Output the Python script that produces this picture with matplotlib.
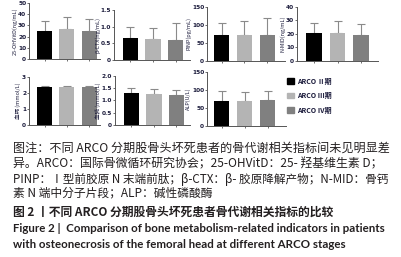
import matplotlib
matplotlib.use('Agg')
import matplotlib.pyplot as plt
from matplotlib.patches import Rectangle

# 数据：三组 ARCO 分期（Ⅱ、Ⅲ、Ⅳ）的均值和标准差
stages = ['ARCO Ⅱ期', 'ARCO Ⅲ期', 'ARCO Ⅳ期']
vitd_mean = [25.2, 26.8, 24.8]
vitd_sd = [9.1, 10.5, 10.5]
ctx_mean = [0.66, 0.62, 0.60]
ctx_sd = [0.32, 0.33, 0.50]
pinp_mean = [71, 71, 72]
pinp_sd = [33, 40, 47]
nmid_mean = [20.2, 20.2, 18.8]
nmid_sd = [7.9, 9.4, 8.4]
ca_mean = [2.34, 2.33, 2.33]
ca_sd = [0.11, 0.12, 0.12]
p_mean = [1.29, 1.27, 1.23]
p_sd = [0.20, 0.20, 0.20]
alp_mean = [68.5, 68.5, 72]
alp_sd = [28, 25, 24]

colors = ['#000000', '#b4b4b4', '#808080']
W, H = 401, 257
tick_col = '#1c1c3c'

fig = plt.figure(figsize=(W / 100, H / 100), dpi=100)

def panel(px_left, px_right, px_top, px_zero, means, sds, ymax, yticks, ticklabels, ylabel, xlim):
    ax = fig.add_axes([px_left / W, 1 - px_zero / H, (px_right - px_left) / W, (px_zero - px_top) / H])
    x = [0, 1, 2]
    ax.bar(x, means, width=0.67, color=colors, zorder=2)
    ax.errorbar(x, means, yerr=[[0, 0, 0], sds], fmt='none', ecolor='#8a8a8a',
                elinewidth=0.8, capsize=2.6, capthick=0.8, zorder=1)
    ax.set_ylim(0, ymax)
    ax.set_xlim(*xlim)
    ax.set_yticks(yticks)
    ax.set_yticklabels(ticklabels, fontsize=4.2, fontweight='bold', color=tick_col)
    ax.set_xticks(x)
    ax.set_xticklabels([])
    for s in ['top', 'right']:
        ax.spines[s].set_visible(False)
    for s in ['left', 'bottom']:
        ax.spines[s].set_color('#555555')
        ax.spines[s].set_linewidth(0.7)
    ax.tick_params(axis='both', length=1.5, width=0.6, color='#555555', pad=0.5)
    ax.set_ylabel(ylabel, fontsize=4.0, family=['Noto Sans CJK SC', 'DejaVu Sans'],
                  color=tick_col, labelpad=0.5)
    return ax

panel(29, 100, 3, 59, vitd_mean, vitd_sd, 50, [0, 10, 20, 30, 40, 50],
      ['0', '10', '20', '30', '40', '50'], '25-OHVitD(ng/mL)', (-0.69, 2.47))
panel(114, 190, 10, 60, ctx_mean, ctx_sd, 1.5, [0, 0.5, 1.0, 1.5],
      ['0', '0.5', '1.0', '1.5'], 'β-CTX(ng/mL)', (-0.73, 2.64))
panel(207, 285, 6.7, 60.7, pinp_mean, pinp_sd, 150, [0, 50, 100, 150],
      ['0', '50', '100', '150'], 'PINP(pg/mL)', (-0.64, 2.78))
panel(297, 378, 6.7, 60.7, nmid_mean, nmid_sd, 40, [0, 10, 20, 30, 40],
      ['0', '10', '20', '30', '40'], 'N-MID(ng/mL)', (-0.72, 2.72))
panel(29, 100, 76.7, 125, ca_mean, ca_sd, 3, [0, 1, 2, 3],
      ['0', '1', '2', '3'], '血钙 (mmol/L)', (-0.69, 2.47))
panel(115, 190, 75.7, 125, p_mean, p_sd, 2.0, [0, 0.5, 1.0, 1.5, 2.0],
      ['0', '0.5', '1.0', '1.5', '2.0'], '血磷 (mmol/L)', (-0.73, 2.6))
panel(207, 286, 71.7, 125.7, alp_mean, alp_sd, 150, [0, 50, 100, 150],
      ['0', '50', '100', '150'], 'ALP(U/L)', (-0.64, 2.8))

# 图例
for i, (lab, c) in enumerate(zip(stages, colors)):
    y = 81 + i * 14.5
    fig.patches.append(Rectangle((287 / W, 1 - (y + 2.5) / H), 7 / W, 5 / H,
                                 transform=fig.transFigure, color=c))
    fig.text(297 / W, 1 - y / H, lab, fontsize=5, fontweight='bold', va='center',
             family=['Noto Sans CJK SC', 'DejaVu Sans'], color=tick_col)

# 图注
cjk = ['Noto Sans CJK SC', 'DejaVu Sans']
txt_col = '#231f20'
lines = [
    (148, 8.7, '图注：不同 ARCO 分期股骨头坏死患者的骨代谢相关指标间未见明显差'),
    (164, 8.6, '异。ARCO：国际骨微循环研究协会；25-OHVitD：25- 羟基维生素 D；'),
    (179, 8.4, 'PINP：Ⅰ型前胶原 N 末端前肽；β-CTX：β- 胶原降解产物；N-MID：骨钙'),
    (193, 8.5, '素 N 端中分子片段；ALP：碱性磷酸酶'),
]
for y, fs, t in lines:
    fig.text(13 / W, 1 - y / H, t, fontsize=fs, family=cjk, color=txt_col, va='center')

fig.text(13 / W, 1 - 212 / H, '图 2 丨不同 ARCO 分期股骨头坏死患者骨代谢相关指标的比较',
         fontsize=8.5, family=cjk, fontweight='bold', color=txt_col, va='center')
fig.text(13 / W, 1 - 229 / H, 'Figure 2 |  Comparison of bone metabolism-related indicators in patients',
         fontsize=8.3, family=['Lato', 'DejaVu Sans'], fontweight='bold', color=txt_col, va='center')
fig.text(13 / W, 1 - 244 / H, 'with osteonecrosis of the femoral head at different ARCO stages',
         fontsize=8.3, family=['Lato', 'DejaVu Sans'], fontweight='bold', color=txt_col, va='center')

fig.savefig('out.png', dpi=100)
